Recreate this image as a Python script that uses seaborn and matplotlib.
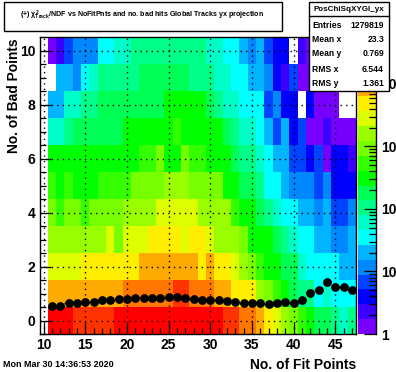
import numpy as np
import pandas as pd
import matplotlib
matplotlib.use("Agg")
import matplotlib.pyplot as plt
from matplotlib.colors import ListedColormap, LogNorm
from matplotlib.patches import Rectangle
from matplotlib.ticker import FixedLocator, NullFormatter
import seaborn as sns

N = np.nan

# palette band read in each bin, one list per No. of Bad Points (0 to 10), x = 10..47
row_0 = [N, 19, 19, 19, 18, 18, 18, 18, 18, 19, 19, 19, 19, 19, 19, 19, 19, 19, 19, 19, 19, 19, 18, 18, 17, 17, 16, 15, 14, 13, 12, 11, 10, 9, 9, 8, 7, 8]
row_1 = [N, 16, 16, 16, 16, 16, 16, 16, 16, 16, 17, 17, 17, 17, 17, 17, 18, 18, 17, 17, 17, 16, 16, 15, 15, 15, 13, 12, 11, 10, 9, 8, 8, 6, 7, 6, 6, 6]
row_2 = [N, 14, 14, 14, 14, 15, 15, 15, 15, 15, 15, 15, 16, 16, 16, 16, 16, 16, 16, 15, 16, 15, 15, 14, 13, 12, 11, 10, 10, 9, 9, 7, 6, 6, 6, 6, 5, 5]
row_3 = [N, 13, 13, 13, 13, 13, 13, 13, 14, 12, 14, 14, 14, 15, 15, 15, 15, 14, 15, 15, 14, 13, 13, 13, 12, 10, 10, 10, 9, 8, 7, 6, 6, 5, 5, 4, 4, 5]
row_4 = [N, 12, 11, 12, 12, 11, 12, 12, 12, 12, 13, 13, 13, 13, 14, 14, 14, 14, 14, 13, 13, 13, 13, 11, 10, 10, 9, 8, 7, 6, 6, 5, 5, 4, 5, 3, 3, 4]
row_5 = [N, 11, 10, 11, 10, 10, 10, 11, 11, 11, 11, 12, 12, 12, 12, 13, 13, 13, 12, 12, 12, 12, 10, 10, 9, 9, 8, 6, 6, 5, 4, 4, 4, 3, 4, 2, 2, 2]
row_6 = [N, 10, 10, 10, 10, 10, 10, 10, 10, 10, 10, 10, 11, 11, 12, 10, 10, 12, 11, 11, 10, 10, 10, 9, 8, 8, 7, 6, 5, 5, 3, 3, 2, 3, 0, 2, 2, 1]
row_7 = [N, 7, 7, 8, 9, 9, 9, 9, 9, 9, 10, 10, 10, 10, 10, 10, 11, 10, 10, 10, 10, 10, 9, 8, 7, 7, 6, 5, 3, 5, 2, 3, 0, 0, 1, 0, 0, 0]
row_8 = [N, 5, 5, 7, 7, 8, 8, 9, 9, 9, 9, 9, 9, 9, 9, 10, 10, 10, 10, 10, 9, 8, 7, 7, 6, 6, 6, 3, 4, 2, 2, N, 2, 0, 0, 0, N, N]
row_9 = [N, N, 5, 5, 4, 6, 7, 8, 8, 8, 8, 8, 9, 9, 9, 9, 9, 9, 8, 8, 8, 7, 7, 6, 6, 5, 5, 4, 2, 1, 3, 0, 0, 0, 0, 0, 0, 0]
row_10 = [N, 0, 1, 3, 4, 4, 4, 6, 6, 7, 7, 8, 8, 8, 8, 8, 8, 8, 8, 8, 7, 7, 6, 6, 5, 4, 5, 3, 2, 2, N, 1, 0, 0, 0, 0, 0, 0]

fit_points = list(range(10, 48))
bad_points = list(range(0, 11))

# black profile points
profile_x = list(range(11, 48))
profile_y = [0.55, 0.55, 0.63, 0.66, 0.70, 0.70, 0.77, 0.77, 0.81, 0.81, 0.85, 0.85, 0.85, 0.85, 0.885, 0.885, 0.85,
             0.81, 0.76, 0.76, 0.76, 0.72, 0.69, 0.66, 0.65, 0.65, 0.61, 0.65, 0.69, 0.65, 0.76, 1.02, 1.13, 1.42,
             1.25, 1.24, 1.14]

palette = ["#7700ff", "#3c00ff", "#0000ff", "#0044ff", "#0088ff", "#00b4ff", "#00ffff", "#00ffc8", "#00ff88", "#00ff55",
           "#00ff00", "#33ff00", "#77ff00", "#99ff00", "#ddff00", "#ffee00", "#ffaa00", "#ff7700", "#ff3300", "#ff0000"]

entries = ["Entries", "Mean x", "Mean y", "RMS x", "RMS y"]
entry_values = ["1279819", "23.3", "0.769", "6.544", "1.361"]

LOG_ZMAX = 4.75

plt.rcParams["font.family"] = "Liberation Sans"
plt.rcParams["font.weight"] = "bold"
plt.rcParams["mathtext.fontset"] = "custom"
plt.rcParams["mathtext.rm"] = "Liberation Sans:bold"
plt.rcParams["mathtext.it"] = "Liberation Sans:bold"
plt.rcParams["mathtext.bf"] = "Liberation Sans:bold"

levels = np.array([row_0, row_1, row_2, row_3, row_4, row_5, row_6, row_7, row_8, row_9, row_10], dtype=float)
counts = pd.DataFrame(10 ** ((levels + 0.5) * LOG_ZMAX / 20), index=bad_points, columns=fit_points)

W, H = 396, 372
fig = plt.figure(figsize=(W / 100, H / 100), dpi=100, facecolor="white")
ax = fig.add_axes([39.5 / W, (H - 334) / H, (356 - 39.5) / W, 297 / H])
cax = fig.add_axes([358 / W, (H - 334) / H, 18 / W, 297 / H])

sns.heatmap(counts, ax=ax, cbar_ax=cax, cmap=ListedColormap(palette), norm=LogNorm(1, 10 ** LOG_ZMAX),
            xticklabels=False, yticklabels=False)
ax.invert_yaxis()
ax.set_facecolor("white")

# heatmap cells sit on 0..n, so shift the real axis values onto them
ax.errorbar(np.array(profile_x) - 9.5, np.array(profile_y) + 0.5, xerr=0.5, fmt="none", ecolor="black", lw=1, zorder=4)
sns.scatterplot(x=np.array(profile_x) - 9.5, y=np.array(profile_y) + 0.5, ax=ax, color="black", s=40, marker="o",
                linewidth=0, zorder=5, clip_on=False)

x_major = [10, 15, 20, 25, 30, 35, 40, 45]
y_major = [0, 2, 4, 6, 8, 10]
ax.xaxis.set_major_locator(FixedLocator([v - 9.5 for v in x_major]))
ax.xaxis.set_minor_locator(FixedLocator([v - 9.5 for v in fit_points]))
ax.yaxis.set_major_locator(FixedLocator([v + 0.5 for v in y_major]))
ax.yaxis.set_minor_locator(FixedLocator([v * 0.5 + 0.5 for v in range(-1, 21)]))
ax.set_xticklabels([str(v) for v in x_major])
ax.set_yticklabels([str(v) for v in y_major])
ax.tick_params(which="major", direction="in", length=8, width=0.9, labelsize=10, pad=3, top=False, right=False)
ax.tick_params(which="minor", direction="in", length=4, width=0.9, top=False, right=False)
ax.grid(True, which="major", color="black", linestyle=(0, (1, 3)), linewidth=1)
ax.set_axisbelow(False)
for s in ax.spines.values():
    s.set_visible(True)
    s.set_color("black")
    s.set_linewidth(1)
ax.set_xlabel("")
ax.set_ylabel("")

cbar = ax.collections[0].colorbar
cbar.outline.set_visible(False)
cax.spines["right"].set_visible(True)
cax.spines["right"].set_linewidth(1)
cax.yaxis.set_major_locator(FixedLocator([1, 10, 100, 1000, 10000]))
cax.yaxis.set_minor_locator(FixedLocator([m * d for d in [1, 10, 100, 1000, 10000] for m in range(2, 10)]))
cax.yaxis.set_minor_formatter(NullFormatter())
cax.set_yticklabels(["1", "10", "10", "10", "10"])
cax.tick_params(which="major", axis="y", direction="in", length=9, width=0.9, labelsize=10, pad=3.5, right=True)
cax.tick_params(which="minor", axis="y", direction="in", length=5, width=0.9, right=True)

# everything in the ROOT canvas overlay is placed in pixels
top = fig.add_axes([0, 0, 1, 1], zorder=10)
top.set_xlim(0, W)
top.set_ylim(H, 0)
top.axis("off")
top.patch.set_alpha(0)

top.text(356, 365, "No. of Fit Points", ha="right", va="center", fontsize=10)
top.text(14, 38, "No. of Bad Points", ha="center", va="top", rotation=90, fontsize=9.9)
top.text(3, 364.5, "Mon Mar 30 14:36:53 2020", ha="left", va="center", fontsize=6.5)

top.add_patch(Rectangle((3.5, 1.5), 278, 29, fc="white", ec="black", lw=1))
top.text(142, 15.5, r"(+) $\chi^2_{Track}$/NDF vs NoFitPnts and no. bad hits Global Tracks yx projection", ha="center",
         va="center", fontsize=5.1)

top.add_patch(Rectangle((308.5, 1.5), 80, 89, fc="white", ec="black", lw=1))
top.plot([308.5, 388.5], [15.5, 15.5], color="black", lw=1)
top.text(348.5, 9.5, "PosChiSqXYGl_yx", ha="center", va="center", fontsize=5.8)
for label, value, y_px in zip(entries, entry_values, [25, 39.5, 53, 69, 83]):
    top.text(312.5, y_px, label, ha="left", va="center", fontsize=6.2)
    top.text(384, y_px, value, ha="right", va="center", fontsize=6.2)

fig.savefig("out.png", dpi=100)
